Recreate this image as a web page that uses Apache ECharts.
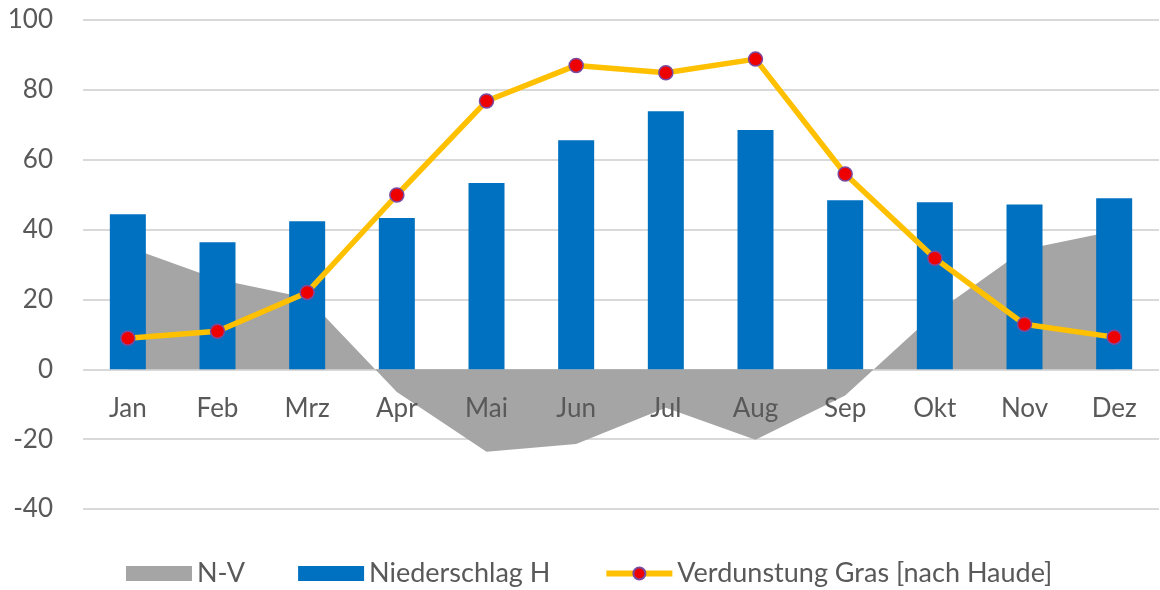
<!DOCTYPE html>
<html><head><meta charset="utf-8">
<script src="https://cdn.jsdelivr.net/npm/echarts@6/dist/echarts.min.js"></script>
<style>html,body{margin:0;padding:0;background:#fff}#c{width:1160px;height:590px}</style>
</head><body><div id="c"></div>
<script>
var months = ['Jan','Feb','Mrz','Apr','Mai','Jun','Jul','Aug','Sep','Okt','Nov','Dez'];
var niederschlag = [44.4, 36.4, 42.4, 43.3, 53.3, 65.6, 73.9, 68.5, 48.4, 47.8, 47.2, 49.0];
var verdunstung = [8.9, 10.9, 22.0, 49.9, 76.8, 87.0, 84.9, 88.8, 55.9, 31.8, 12.9, 9.2];
var nMinusV = [35.0, 25.8, 20.4, -6.5, -23.6, -21.4, -11.0, -20.2, -7.5, 16.0, 34.3, 39.6];
var yTicks = {min: -40, max: 100, interval: 20};

var txt = '#595959';
var font = 'Lato, "Open Sans", sans-serif';
var chart = echarts.init(document.getElementById('c'));
chart.setOption({
  animation: false,
  textStyle: {fontFamily: font},
  grid: {left: 83, right: 1, top: 20, bottom: 81, containLabel: false},
  legend: {
    top: 555, left: 121, itemWidth: 66, itemHeight: 15, itemGap: 53,
    textStyle: {color: txt, fontSize: 27, fontFamily: font},
    data: [
      {name: 'N-V', icon: 'rect'},
      {name: 'Niederschlag H', icon: 'rect'},
      {name: 'Verdunstung Gras [nach Haude]', lineStyle: {width: 6}}
    ]
  },
  xAxis: {
    type: 'category', data: months, boundaryGap: true, z: 10,
    axisLine: {show: false, onZero: false},
    axisTick: {show: false},
    axisLabel: {color: txt, fontSize: 26, margin: -113, fontFamily: font}
  },
  yAxis: {
    type: 'value', min: yTicks.min, max: yTicks.max, interval: yTicks.interval,
    axisLine: {show: false}, axisTick: {show: false},
    axisLabel: {color: txt, fontSize: 26, margin: 30, fontFamily: font},
    splitLine: {lineStyle: {color: '#d9d9d9', width: 2}}
  },
  series: [
    {
      name: 'N-V', type: 'line', data: nMinusV, symbol: 'none', z: 1,
      lineStyle: {width: 0, color: '#a5a5a5'}, itemStyle: {color: '#a5a5a5'},
      areaStyle: {color: '#a5a5a5', opacity: 1}
    },
    {
      name: 'Niederschlag H', type: 'bar', data: niederschlag, barWidth: 36, z: 2,
      itemStyle: {color: '#0070c0'}
    },
    {
      name: 'Verdunstung Gras [nach Haude]', type: 'line', data: verdunstung, z: 3,
      symbol: 'circle', symbolSize: 14,
      lineStyle: {width: 5.5, color: '#ffc000'},
      itemStyle: {color: '#ee0000', borderColor: '#7a4aa0', borderWidth: 1.5}
    }
  ]
});
</script></body></html>
